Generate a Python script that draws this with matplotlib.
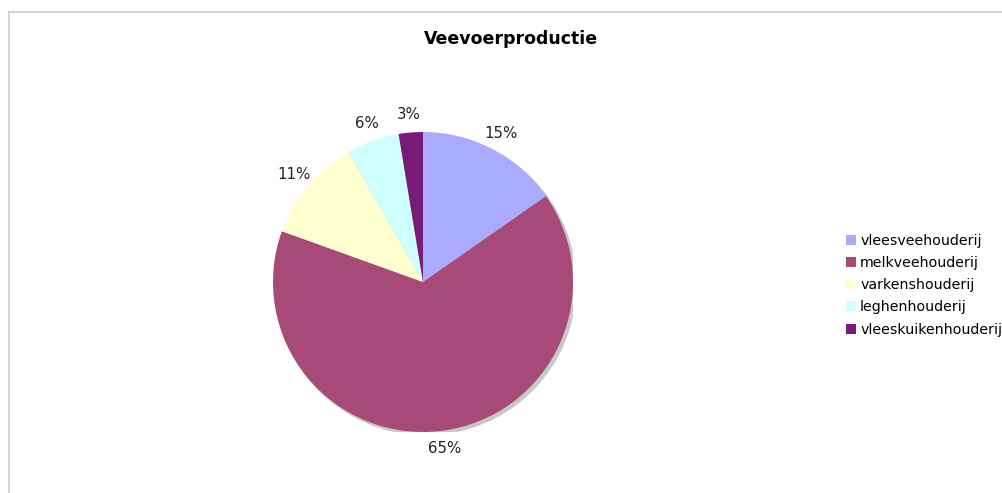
import matplotlib
matplotlib.use("Agg")
import matplotlib.pyplot as plt
from matplotlib.lines import Line2D
from matplotlib.patches import Circle, Patch

# data
categories = ["vleesveehouderij", "melkveehouderij", "varkenshouderij",
              "leghenhouderij", "vleeskuikenhouderij"]
shares = [15.3, 65.2, 11.2, 5.7, 2.6]
pct_labels = ["15%", "65%", "11%", "6%", "3%"]
colors = ["#aaaaff", "#a84a78", "#ffffd0", "#d0ffff", "#781a78"]

W, H = 1003, 493
fig = plt.figure(figsize=(W / 100, H / 100), dpi=100)
fig.patch.set_facecolor("white")

# grey frame lines (top and left)
fig.add_artist(Line2D([9 / W, 1], [1 - 12 / H, 1 - 12 / H], color="#d0d0d0", lw=1.3))
fig.add_artist(Line2D([9 / W, 9 / W], [0, 1 - 12 / H], color="#d0d0d0", lw=1.3))

fig.text(511 / W, 1 - 39 / H, "Veevoerproductie", ha="center", va="center",
         fontsize=12.5, fontweight="bold", color="black")

# pie axes: centre (423, 282), radius 150 px
cx, cy, r = 423, 282, 150
ax = fig.add_axes([(cx - r) / W, (H - cy - r) / H, 2 * r / W, 2 * r / H])
ax.set_xlim(-1, 1)
ax.set_ylim(-1, 1)
ax.axis("off")

# soft shadow
ax.add_patch(Circle((0.018, -0.018), 1.0, color="#c8c8c8", zorder=0))

wedges, texts = ax.pie(shares, colors=colors, labels=pct_labels, startangle=90,
                       counterclock=False, radius=1.0, labeldistance=1.12,
                       textprops=dict(fontsize=10.8, color="#222222"),
                       wedgeprops=dict(linewidth=0))
for w in wedges:
    w.set_zorder(2)
for t in texts:
    t.set_horizontalalignment("center")
    t.set_verticalalignment("center")
ax.set_xlim(-1, 1)
ax.set_ylim(-1, 1)

handles = [Patch(facecolor=c, edgecolor="none") for c in colors]
fig.legend(handles, categories, loc="upper left",
           bbox_to_anchor=(840 / W, 1 - 228 / H), frameon=False,
           fontsize=10.2, handlelength=0.72, handleheight=0.72,
           handletextpad=0.3, labelspacing=0.58, borderaxespad=0)

fig.savefig("out.png", dpi=100, facecolor="white")
